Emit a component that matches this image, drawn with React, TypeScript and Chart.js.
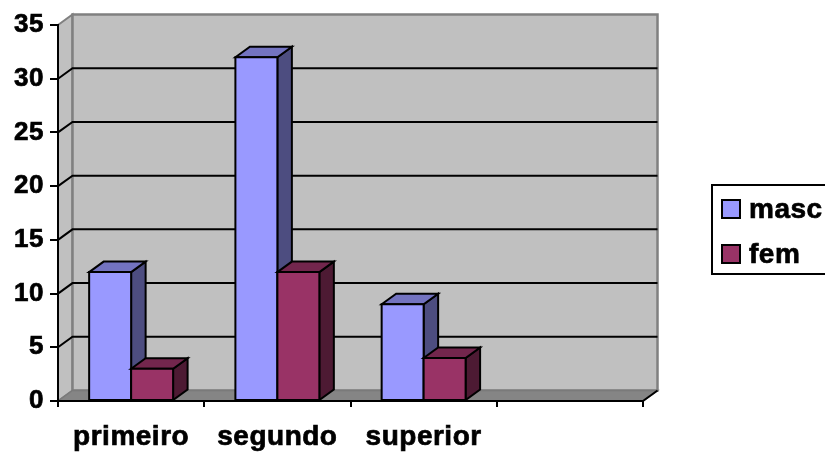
import React, { useEffect, useRef } from 'react';
import { Chart, registerables } from 'chart.js';

Chart.register(...registerables);

// Education level by sex
const categories = ['primeiro', 'segundo', 'superior', ''];
const mascValues = [12, 32, 9, null];
const femValues = [3, 12, 4, null];
const seriesNames = ['masc', 'fem'];

const Y_MAX = 35;
const Y_STEP = 5;

// Face colours: front, top, side
const faceColors = [
  { front: '#9999FF', top: '#7373C0', side: '#4D4D80' },
  { front: '#993366', top: '#73264D', side: '#4D1A33' },
];

// Depth of the 3D box (horizontal / vertical offset of the back plane)
const DX = 14.5;
const DY = -10.5;

const FONT_FAMILY = '"Liberation Sans", Arial, sans-serif';

function poly(ctx: CanvasRenderingContext2D, pts: number[][]) {
  ctx.beginPath();
  ctx.moveTo(pts[0][0], pts[0][1]);
  for (let i = 1; i < pts.length; i++) ctx.lineTo(pts[i][0], pts[i][1]);
  ctx.closePath();
}

const depthPlugin = {
  id: 'depth3d',
  beforeDraw(chart: any) {
    const { ctx, chartArea: a } = chart;
    (ctx as any).letterSpacing = '0.5px';
    const yScale = chart.scales.y;
    ctx.save();
    ctx.lineJoin = 'miter';

    // left side wall
    poly(ctx, [[a.left, a.top], [a.left + DX, a.top + DY], [a.left + DX, a.bottom + DY], [a.left, a.bottom]]);
    ctx.fillStyle = '#C0C0C0';
    ctx.fill();
    ctx.strokeStyle = '#808080';
    ctx.lineWidth = 2;
    ctx.stroke();

    // back wall
    ctx.beginPath();
    ctx.rect(a.left + DX, a.top + DY, a.right - a.left, a.bottom - a.top);
    ctx.fillStyle = '#C0C0C0';
    ctx.fill();
    ctx.strokeStyle = '#808080';
    ctx.lineWidth = 2.5;
    ctx.stroke();

    // floor
    poly(ctx, [[a.left, a.bottom], [a.left + DX, a.bottom + DY], [a.right + DX, a.bottom + DY], [a.right, a.bottom]]);
    ctx.fillStyle = '#858585';
    ctx.fill();
    ctx.strokeStyle = '#7A7A7A';
    ctx.lineWidth = 1.5;
    ctx.stroke();

    // gridlines running along the side wall and across the back wall
    ctx.strokeStyle = '#000';
    ctx.lineWidth = 2;
    for (let v = Y_STEP; v < Y_MAX; v += Y_STEP) {
      const y = yScale.getPixelForValue(v);
      ctx.beginPath();
      ctx.moveTo(a.left, y);
      ctx.lineTo(a.left + DX, y + DY);
      ctx.lineTo(a.right + DX, y + DY);
      ctx.stroke();
    }

    // right end of the floor's front edge
    ctx.beginPath();
    ctx.moveTo(a.right, a.bottom);
    ctx.lineTo(a.right + DX, a.bottom + DY);
    ctx.stroke();
    ctx.restore();
  },
  beforeDatasetsDraw(chart: any) {
    const { ctx } = chart;
    ctx.save();
    ctx.lineJoin = 'miter';
    ctx.strokeStyle = '#000';
    ctx.lineWidth = 2;
    const n = chart.data.labels.length;
    for (let i = 0; i < n; i++) {
      chart.data.datasets.forEach((ds: any, d: number) => {
        if (ds.data[i] == null) return;
        const el = chart.getDatasetMeta(d).data[i];
        const { x, y, base, width } = el.getProps(['x', 'y', 'base', 'width'], true);
        const l = x - width / 2;
        const r = x + width / 2;
        const c = faceColors[d];
        // side face
        poly(ctx, [[r, y], [r + DX, y + DY], [r + DX, base + DY], [r, base]]);
        ctx.fillStyle = c.side;
        ctx.fill();
        ctx.stroke();
        // top face
        poly(ctx, [[l, y], [l + DX, y + DY], [r + DX, y + DY], [r, y]]);
        ctx.fillStyle = c.top;
        ctx.fill();
        ctx.stroke();
        // front face
        poly(ctx, [[l, y], [r, y], [r, base], [l, base]]);
        ctx.fillStyle = c.front;
        ctx.fill();
        ctx.stroke();
      });
    }
    ctx.restore();
    return false;
  },
  afterDraw(chart: any) {
    const { ctx } = chart;
    ctx.save();
    // legend box
    const bx = 712;
    const by = 185;
    ctx.strokeStyle = '#000';
    ctx.lineWidth = 2;
    ctx.strokeRect(bx, by, 140, 89);
    ctx.font = `bold 28px ${FONT_FAMILY}`;
    ctx.textBaseline = 'middle';
    ctx.textAlign = 'left';
    chart.data.datasets.forEach((ds: any, d: number) => {
      const rowY = by + 24 + d * 45;
      ctx.fillStyle = ds.backgroundColor;
      ctx.fillRect(bx + 10, rowY - 9, 18, 18);
      ctx.strokeStyle = '#000';
      ctx.lineWidth = 2;
      ctx.strokeRect(bx + 10, rowY - 9, 18, 18);
      ctx.fillStyle = '#000';
      ctx.lineWidth = 0.7;
      ctx.strokeText(ds.label, bx + 37, rowY + 1);
      ctx.fillText(ds.label, bx + 37, rowY + 1);
    });
    ctx.restore();
  },
};

export default function App() {
  const canvasRef = useRef<HTMLCanvasElement | null>(null);

  useEffect(() => {
    const canvas = canvasRef.current;
    if (!canvas) return;
    const chart = new Chart(canvas, {
      type: 'bar',
      data: {
        labels: categories,
        datasets: [
          {
            label: seriesNames[0],
            data: mascValues,
            backgroundColor: faceColors[0].front,
            categoryPercentage: 0.574,
            barPercentage: 1,
          },
          {
            label: seriesNames[1],
            data: femValues,
            backgroundColor: faceColors[1].front,
            categoryPercentage: 0.574,
            barPercentage: 1,
          },
        ],
      },
      options: {
        responsive: false,
        animation: false,
        layout: { padding: { top: 25, right: 182, left: 0, bottom: 0 } },
        plugins: {
          legend: { display: false },
          tooltip: { enabled: false },
        },
        scales: {
          x: {
            afterFit: (s: any) => {
              s.height = 51;
            },
            grid: {
              offset: true,
              drawOnChartArea: false,
              drawTicks: true,
              tickLength: 6,
              color: '#000',
              lineWidth: 2,
            },
            border: { color: '#000', width: 2 },
            ticks: {
              color: '#000',
              padding: 13,
              maxRotation: 0,
              autoSkip: false,
              textStrokeColor: '#000',
              textStrokeWidth: 0.7,
              font: { family: FONT_FAMILY, size: 28, weight: 'bold' },
            },
          },
          y: {
            min: 0,
            max: Y_MAX,
            afterFit: (s: any) => {
              s.width = 58;
            },
            grid: {
              drawOnChartArea: false,
              drawTicks: true,
              tickLength: 8,
              color: '#000',
              lineWidth: 2,
            },
            border: { color: '#000', width: 2 },
            ticks: {
              stepSize: Y_STEP,
              color: '#000',
              padding: 6,
              textStrokeColor: '#000',
              textStrokeWidth: 0.7,
              font: { family: FONT_FAMILY, size: 26, weight: 'bold' },
            },
          },
        },
      },
      plugins: [depthPlugin],
    });
    return () => chart.destroy();
  }, []);

  return (
    <div style={{ position: 'absolute', left: 0, top: 0, width: 825, height: 452, background: '#fff' }}>
      <canvas ref={canvasRef} width={825} height={452} />
    </div>
  );
}
